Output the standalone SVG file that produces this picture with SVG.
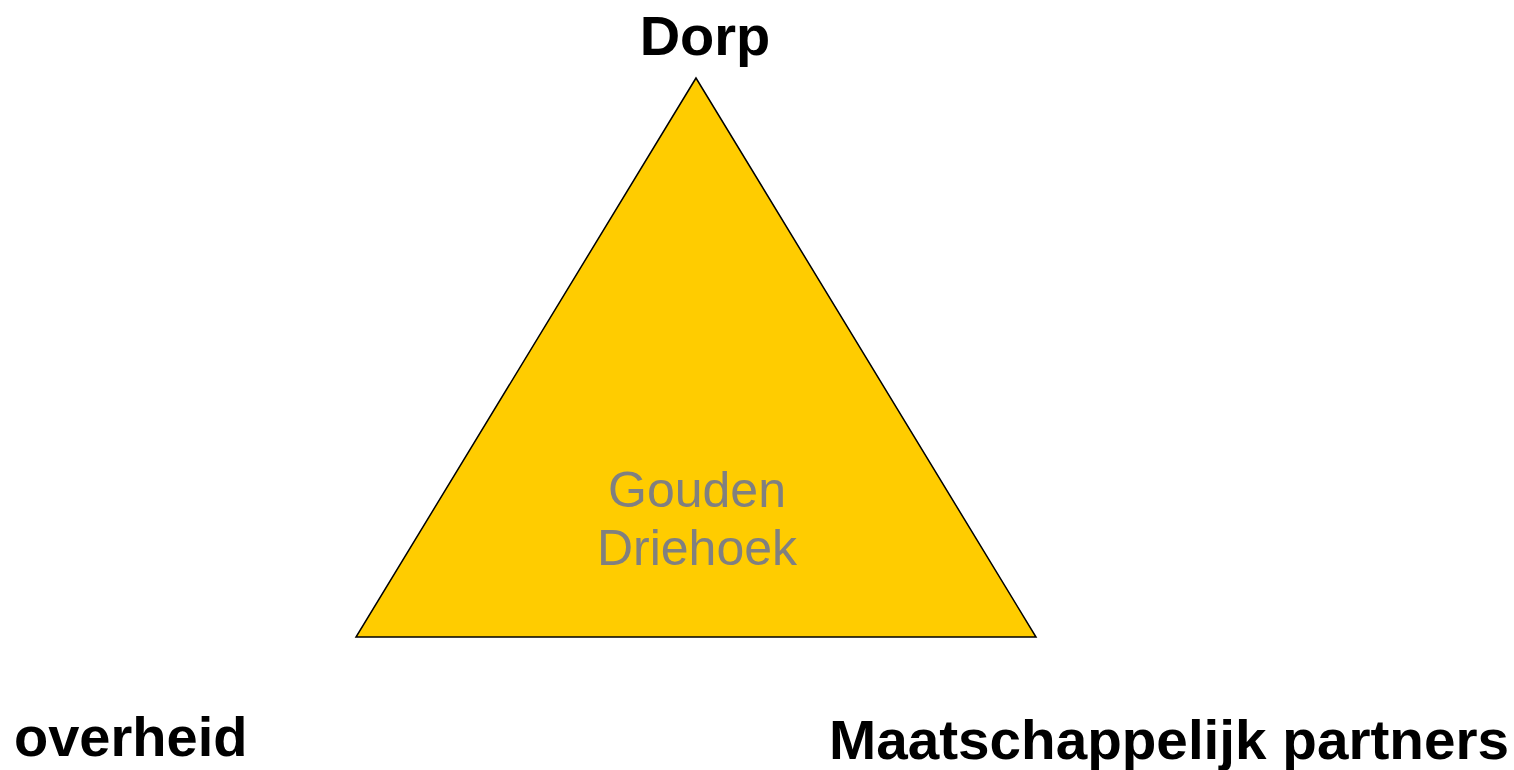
<svg xmlns="http://www.w3.org/2000/svg" width="1514" height="770" viewBox="0 0 1514 770">
<style>
.lbl{font-family:"Liberation Sans",Arial,sans-serif;font-weight:bold;font-size:56px;fill:#000}
.inner{font-family:"Liberation Sans",Arial,sans-serif;font-size:50px;fill:#808080;text-anchor:middle}
</style>
<rect width="1514" height="770" fill="#fff"/>
<g id="triangle">
<polygon points="696,78 356,637 1036,637" fill="#FFCC00" stroke="#000" stroke-width="1.5" stroke-linejoin="miter"/>
<text class="inner" x="697" y="507">Gouden</text>
<text class="inner" x="697" y="565">Driehoek</text>
</g>
<g id="dorp"><text class="lbl" x="705" y="55" text-anchor="middle">Dorp</text></g>
<g id="overheid"><text class="lbl" x="14" y="756">overheid</text></g>
<g id="partners"><text class="lbl" x="829" y="759" textLength="680" lengthAdjust="spacingAndGlyphs">Maatschappelijk partners</text></g>
</svg>
